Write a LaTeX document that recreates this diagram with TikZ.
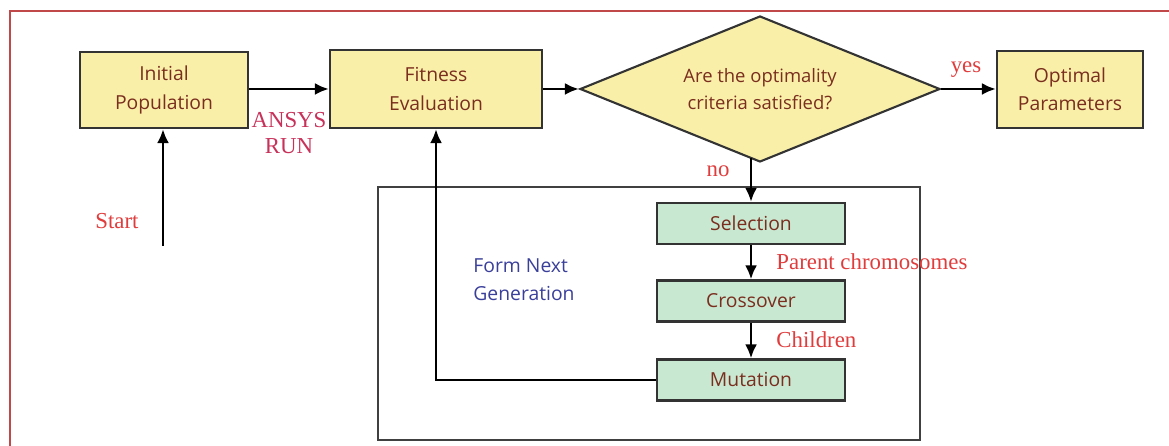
\documentclass[tikz,border=0pt]{standalone}
\usepackage{fontspec}
\setmainfont{Liberation Serif}
\setsansfont{Open Sans}
\usetikzlibrary{arrows.meta,shapes.geometric}

\definecolor{boxyellow}{HTML}{F9EFA9}
\definecolor{boxgreen}{HTML}{C9E8D2}
\definecolor{boxtext}{HTML}{7A2E1E}
\definecolor{labelred}{HTML}{E03C3C}
\definecolor{ansysred}{HTML}{C8325A}
\definecolor{formblue}{HTML}{3A3F9A}
\definecolor{framered}{HTML}{C04848}

\begin{document}
\begin{tikzpicture}[line width=1.6pt,
  box/.style={draw=black!80, line width=1.2pt, fill=boxyellow, align=center,
    text=boxtext, font=\sffamily\fontsize{11}{16}\selectfont, inner sep=0pt},
  gabox/.style={box, fill=boxgreen, minimum width=3.76cm, minimum height=0.82cm},
  lbl/.style={text=labelred, font=\fontsize{13}{15}\selectfont, inner sep=0pt},
  arr/.style={-{Latex[length=2.8mm,width=2.4mm]}}]

\useasboundingbox (0,0) rectangle (23.38,8.92);
\draw[framered, line width=1pt] (0.2,0) -- (0.2,8.70) -- (23.38,8.70);

\node[box, minimum width=3.36cm, minimum height=1.52cm] (init) at (3.28,7.12) {Initial\\Population};
\node[box, minimum width=4.24cm, minimum height=1.56cm] (fit) at (8.72,7.14) {Fitness\\Evaluation};
\node[box, shape=diamond, shape aspect=2.3, minimum width=7.2cm, minimum height=2.92cm,
  font=\sffamily\fontsize{10.5}{15}\selectfont] (check) at (15.2,7.14) {Are the optimality\\criteria satisfied?};
\node[box, minimum width=2.92cm, minimum height=1.54cm] (opt) at (21.4,7.13) {Optimal\\Parameters};

\draw[black!75, line width=1.2pt] (7.56,0.12) rectangle (18.4,5.18);

\node[gabox] (sel) at (15.02,4.45) {Selection};
\node[gabox] (cro) at (15.02,2.90) {Crossover};
\node[gabox] (mut) at (15.02,1.32) {Mutation};

\coordinate (start) at (3.26,4.0);

\draw[arr] (init.east |- fit.west) -- (fit.west);
\draw[arr] (fit.east) -- (check.west);
\draw[arr] (check.east) -- (opt.west |- check.east);
\draw[arr] ([yshift=0.1cm]check.south -| sel.north) -- (sel.north);
\draw[arr] (sel) -- (cro);
\draw[arr] (cro) -- (mut);
\draw[arr] (mut.west) -| (fit.south);
\draw[arr] (start) -- (start |- init.south);

\node[lbl, text=ansysred, align=center] (ansys) at (5.78,6.26) {ANSYS\\RUN};
\node[lbl] (startlbl) at (2.34,4.5) {Start};
\node[lbl] (yes) at (19.32,7.52) {yes};
\node[lbl] (no) at (14.36,5.5) {no};
\node[lbl, anchor=west] (parent) at (15.5,3.68) {Parent chromosomes};
\node[lbl, anchor=west] (children) at (15.5,2.12) {Children};
\node[text=formblue, anchor=west, align=left, font=\sffamily\fontsize{11}{16}\selectfont,
  inner sep=0pt] (form) at (9.44,3.32) {Form Next\\Generation};

\end{tikzpicture}
\end{document}
